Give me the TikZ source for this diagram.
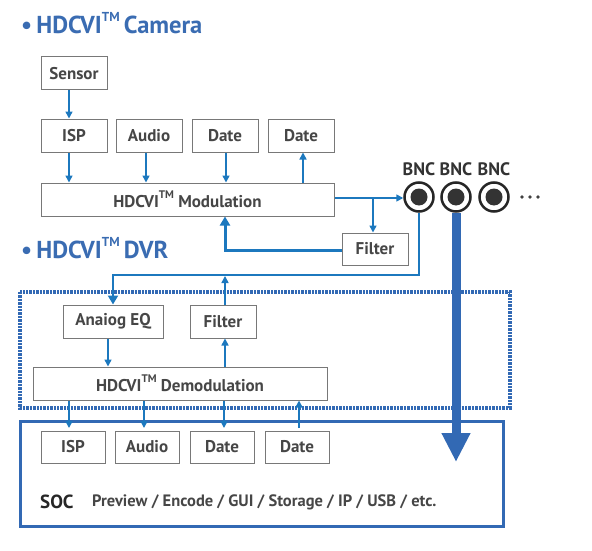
\documentclass[tikz,border=0pt]{standalone}
\usepackage{fontspec}
\setmainfont{PT Sans}
\usetikzlibrary{arrows.meta}
\definecolor{ttl}{RGB}{58,108,178}
\definecolor{arr}{RGB}{28,120,190}
\definecolor{frm}{RGB}{50,105,180}
\definecolor{txt}{RGB}{70,70,70}
\definecolor{bdr}{RGB}{120,120,120}
\tikzset{
  blk/.style={draw=bdr, line width=1pt, fill=white, minimum height=33pt, inner sep=0pt, font=\fontsize{17}{17}\selectfont\bfseries, text=txt},
  sarr/.style={draw=arr, line width=1.6pt, -{Triangle[length=7pt,width=7pt]}},
  tarr/.style={draw=arr, line width=3pt, -{Triangle[length=9pt,width=10pt]}},
  ttlf/.style={font=\fontsize{24.5}{24.5}\selectfont\bfseries, text=ttl, anchor=west, inner sep=0pt},
  bnclab/.style={font=\fontsize{18}{18}\selectfont\bfseries, text=black!80, inner sep=0pt},
}
\newcommand{\mytm}{\raisebox{0.55em}{\fontsize{11}{11}\selectfont TM}}
\newcommand{\mytmt}{\raisebox{0.5em}{\fontsize{13}{13}\selectfont TM}}
\begin{document}
\begin{tikzpicture}[x=1pt,y=-1pt]
\useasboundingbox (0,0) rectangle (592,551);
% titles
\node[ttlf] (t1) at (21,23) {\textbullet\,HDCVI\mytmt\,Camera};
\node[ttlf] (t2) at (21,248) {\textbullet\,HDCVI\mytmt\,DVR};
% camera blocks
\node[blk, minimum width=66pt] (sensor) at (74,73.5) {Sensor};
\node[blk, minimum width=66pt] (cisp) at (74,135.5) {ISP};
\node[blk, minimum width=66pt] (caud) at (149,135.5) {Audio};
\node[blk, minimum width=66pt] (cdat1) at (225,135.5) {Date};
\node[blk, minimum width=66pt] (cdat2) at (301,135.5) {Date};
\node[blk, minimum width=293pt] (mod) at (187.5,199.5) {HDCVI\mytm\ Modulation};
\node[blk, minimum width=66pt, minimum height=32pt] (cfil) at (375,249) {Filter};
\draw[sarr] (sensor.south -| 69,0) -- (cisp.north -| 69,0);
\draw[sarr] (cisp.south -| 69,0) -- (mod.north -| 69,0);
\draw[sarr] (caud.south -| 146,0) -- (mod.north -| 146,0);
\draw[sarr] (cdat1.south -| 226,0) -- (mod.north -| 226,0);
\draw[sarr] (mod.north -| 303,0) -- (cdat2.south -| 303,0);
% BNC
\foreach \i/\x in {1/419,2/456,3/494}{
  \node[circle, draw=black!85, line width=2.5pt, fill=white, minimum size=29pt, inner sep=0pt] (bnc\i) at (\x,197) {};
  \fill[black!80] (bnc\i.center) circle (8.5pt);
  \node[bnclab] (bl\i) at (\x,169) {BNC};
}
\foreach \i/\x in {1/522,2/530,3/538}{
  \fill[black!75] (\x,197) circle (1.8pt) coordinate (dot\i);
}
\coordinate (br) at (373,198);
\draw[sarr] (mod.east |- 0,198) -- (bnc1.west |- 0,198);
\draw[sarr] (br) -- (cfil.north -| br);
\draw[tarr] (cfil.west |- 0,250) -- (225,250) -- (mod.south -| 225,0);
% DVR dotted frame
\draw[frm, line width=3.5pt, dash pattern=on 2.4pt off 1pt] (20,292) rectangle (510,408);
\node[blk, minimum width=100pt] (eq) at (113,321.5) {Anaiog EQ};
\node[blk, minimum width=66pt] (dfil) at (223,321.5) {Filter};
\node[blk, minimum width=294pt] (demod) at (180,383.5) {HDCVI\mytm\ Demodulation};
\coordinate (c1) at (419,275);
\coordinate (c2) at (113,275);
\draw[tarr, line width=2.5pt] (bnc1.south) -- (c1) -- (c2) -- (eq.north);
\draw[sarr] (dfil.north -| 225,0) -- (225,276);
\draw[sarr] (eq.south -| 108,0) -- (demod.north -| 108,0);
\draw[sarr] (demod.north -| 225,0) -- (dfil.south -| 225,0);
% SOC
\draw[frm, line width=3pt] (20,421) rectangle (503,526);
\node[blk, minimum width=64pt, minimum height=32pt] (sisp) at (73,447) {ISP};
\node[blk, minimum width=64pt, minimum height=32pt] (saud) at (147,447) {Audio};
\node[blk, minimum width=64pt, minimum height=32pt] (sdat1) at (222,447) {Date};
\node[blk, minimum width=64pt, minimum height=32pt] (sdat2) at (297,447) {Date};
\coordinate (s1) at (69,428);
\coordinate (s2) at (144,428);
\coordinate (s3) at (224,428);
\coordinate (s4) at (299,428);
\draw[sarr] (demod.south -| s1) -- (s1);
\draw[sarr] (demod.south -| s2) -- (s2);
\draw[sarr] (demod.south -| s3) -- (s3);
\draw[sarr] (s4) -- (demod.south -| s4);
\node[font=\fontsize{19}{19}\selectfont\bfseries, text=black!85, anchor=west, inner sep=0pt] (soc) at (40,502) {SOC};
\node[font=\fontsize{16.5}{16.5}\selectfont\bfseries, text=txt, anchor=west, inner sep=0pt] (socl) at (92,502) {Preview / Encode / GUI / Storage / IP / USB / etc.};
% big arrow
\coordinate (ba) at (456,462);
\draw[frm, line width=9pt, -{Triangle[length=29pt,width=27pt]}] (bnc2.south) -- (ba);
\end{tikzpicture}
\end{document}
